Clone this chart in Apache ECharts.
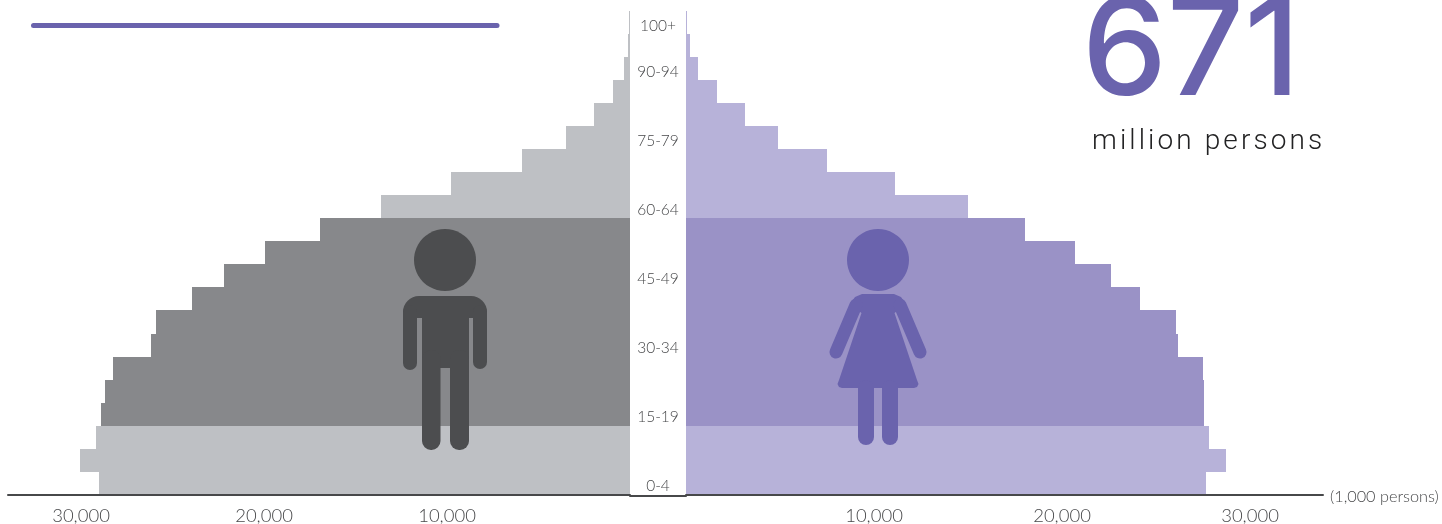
<!DOCTYPE html>
<html><head><meta charset="utf-8">
<script src="https://cdn.jsdelivr.net/npm/echarts@6/dist/echarts.min.js"></script>
<style>
html,body{margin:0;padding:0;background:#fff;overflow:hidden}
#c{width:1442px;height:524px}
#c svg{will-change:transform}
text[fill="#222223"]{letter-spacing:3.1px}
path[fill="#87888b"],path[fill="#bec0c4"],path[fill="#9a92c6"],path[fill="#b7b2d9"]{shape-rendering:crispEdges}
</style></head><body><div id="c"></div>
<script>
const ageGroups = ['0-4','5-9','10-14','15-19','20-24','25-29','30-34','35-39','40-44','45-49','50-54','55-59','60-64','65-69','70-74','75-79','80-84','85-89','90-94','95-99','100+'];
const maleValues = [29016,30055,29180,28907,28689,28251,26175,25902,23934,22186,19945,16940,13607,9781,5902,3497,1967,929,328,109,40];
const femaleValues = [27660,28723,27819,27553,27553,27500,26170,26064,24149,22606,20691,18032,15000,11117,7500,4894,3138,1649,638,213,60];
const workingAgeGroups = ['15-19','20-24','25-29','30-34','35-39','40-44','45-49','50-54','55-59'];
const shownAgeLabels = ['0-4','15-19','30-34','45-49','60-64','75-79','90-94','100+'];

const MAIN='#6a63ad', TXT='#47484a', MAN='#4c4d4f';
const isWorking = i => workingAgeGroups.includes(ageGroups[i]);
const fontFamily='Lato';
const rect=(x,y,w,h,r,fill)=>({type:'rect',z:10,shape:{x,y,width:w,height:h,r},style:{fill}});

const manIcon=[
  {type:'circle',z:10,shape:{cx:445,cy:260,r:31},style:{fill:MAN}},
  rect(403,296,84,22,[16,16,0,0],MAN),
  rect(422,300,47,68,0,MAN),
  rect(403,305,14,65,7,MAN),
  rect(473,305,14,64,7,MAN),
  rect(422,350,18.5,100,9,MAN),
  rect(450,350,19,100,9,MAN)
];
const womanIcon=[
  {type:'circle',z:10,shape:{cx:878,cy:260,r:31},style:{fill:MAIN}},
  {type:'polygon',z:10,shape:{points:[[862,294],[894,294],[901,297],[906,304],[894.5,313],[917,380],[918.5,384],[917,387],[914,388],[842,388],[839,387],[837.5,384],[839,380],[861.5,313],[850,304],[855,297]]},style:{fill:MAIN}},
  {type:'line',z:10,shape:{x1:900,y1:305,x2:920,y2:352},style:{stroke:MAIN,lineWidth:13,lineCap:'round'}},
  {type:'line',z:10,shape:{x1:856,y1:305,x2:836,y2:352},style:{stroke:MAIN,lineWidth:13,lineCap:'round'}},
  rect(858,380,16,65,8,MAIN),
  rect(882,380,16,65,8,MAIN)
];

const chart=echarts.init(document.getElementById('c'),null,{renderer:'svg'});
chart.setOption({
  animation:false,
  backgroundColor:'#fff',
  grid:[
    {left:8,width:622,top:10.6,height:485},
    {left:686,width:637,top:10.6,height:485},
    {left:630,width:56,top:10.6,height:485},
    {left:658,width:1,top:14,height:482}
  ],
  xAxis:[
    {gridIndex:0,type:'value',inverse:true,min:0,max:33989,interval:10000,z:5,splitLine:{show:false},axisTick:{show:false},
     axisLine:{show:true,onZero:false,lineStyle:{color:TXT,width:2}},
     axisLabel:{showMinLabel:false,showMaxLabel:false,color:TXT,fontFamily,fontWeight:300,fontSize:18.5,margin:10}},
    {gridIndex:1,type:'value',min:0,max:33883,interval:10000,z:5,splitLine:{show:false},axisTick:{show:false},
     axisLine:{show:true,onZero:false,lineStyle:{color:TXT,width:2}},
     name:'(1,000 persons)',nameLocation:'end',nameGap:7,nameTextStyle:{color:TXT,fontFamily,fontWeight:300,fontSize:16.3},
     axisLabel:{showMinLabel:false,showMaxLabel:false,color:TXT,fontFamily,fontWeight:300,fontSize:18.5,margin:10}},
    {gridIndex:2,type:'value',min:0,max:1,z:5,splitLine:{show:false},axisTick:{show:false},
     axisLine:{show:true,onZero:false,lineStyle:{color:TXT,width:2}},axisLabel:{show:false}},
    {gridIndex:3,type:'value',show:false,min:0,max:1}
  ],
  yAxis:[
    {gridIndex:0,type:'category',data:ageGroups,axisLine:{show:false},axisTick:{show:false},axisLabel:{show:false}},
    {gridIndex:1,type:'category',data:ageGroups,axisLine:{show:false},axisTick:{show:false},axisLabel:{show:false}},
    {gridIndex:2,type:'category',data:ageGroups,axisLine:{show:false},axisTick:{show:false},axisLabel:{show:false}},
    {gridIndex:3,type:'category',data:ageGroups,position:'left',axisLine:{show:false},axisTick:{show:false},
     axisLabel:{color:TXT,fontFamily,fontWeight:300,fontSize:15.5,margin:0,align:'center',
       interval:(i,v)=>shownAgeLabels.includes(v)}}
  ],
  series:[
    {type:'bar',xAxisIndex:0,yAxisIndex:0,data:maleValues,barWidth:'100%',silent:true,
     itemStyle:{color:p=>isWorking(p.dataIndex)?'#87888b':'#bec0c4'}},
    {type:'bar',xAxisIndex:1,yAxisIndex:1,data:femaleValues,barWidth:'100%',silent:true,
     itemStyle:{color:p=>isWorking(p.dataIndex)?'#9a92c6':'#b7b2d9'}}
  ],
  graphic:[
    {type:'line',z:10,shape:{x1:33.5,y1:25.5,x2:497,y2:25.5},style:{stroke:MAIN,lineWidth:5,lineCap:'round'}},
    ...manIcon,
    ...womanIcon,
    {type:'text',z:10,style:{text:'671',x:1082,y:113,textAlign:'left',textVerticalAlign:'bottom',fill:MAIN,font:'500 135px Inter'}},
    {type:'text',z:10,style:{text:'million persons',x:1092,y:139,textAlign:'left',textVerticalAlign:'middle',fill:'#222223',font:'300 28px Roboto'}}
  ]
});
</script></body></html>
